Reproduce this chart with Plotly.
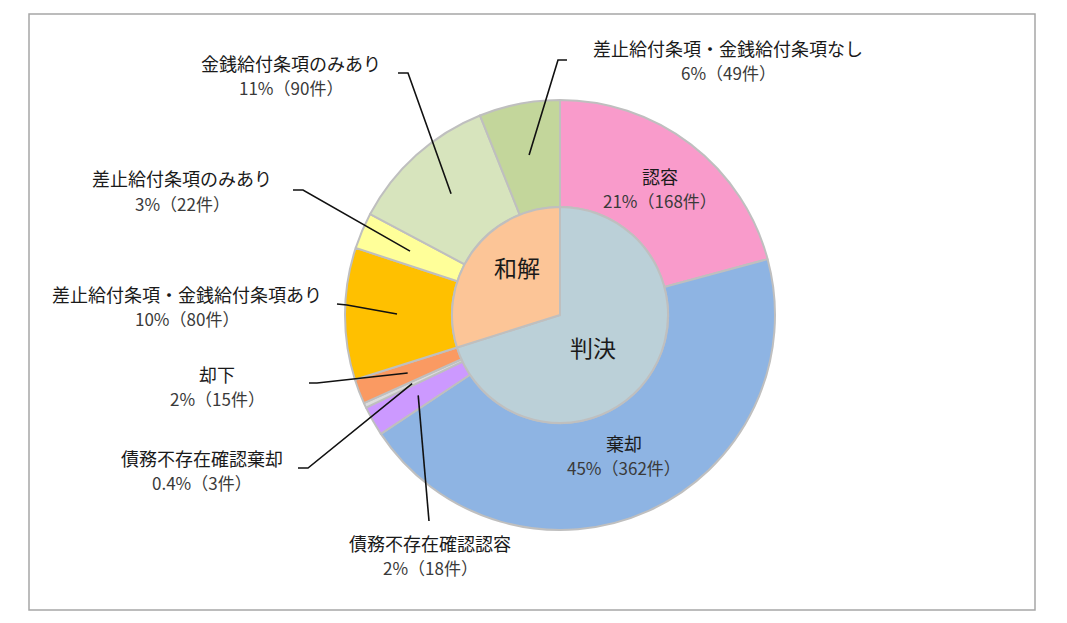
import math
import plotly.graph_objects as go

# ---- data ----
inner_labels = ["判決", "和解"]
outer_labels = ["認容", "棄却", "債務不存在確認認容", "債務不存在確認棄却", "却下",
                "差止給付条項・金銭給付条項あり", "差止給付条項のみあり",
                "金銭給付条項のみあり", "差止給付条項・金銭給付条項なし"]
outer_parent = ["判決", "判決", "判決", "判決", "判決", "和解", "和解", "和解", "和解"]
outer_counts = [168, 362, 18, 3, 15, 80, 22, 90, 49]
outer_pct_text = ["21%", "45%", "2%", "0.4%", "2%", "10%", "3%", "11%", "6%"]

inner_counts = [sum(c for c, p in zip(outer_counts, outer_parent) if p == lab) for lab in inner_labels]

# ---- styles / layout ----
W, H = 1067, 623           # window size
OFF = 8                    # page body margin
FW, FH = W - 2 * OFF, H - 2 * OFF   # figure size
CX, CY = 560, 315          # pie centre (window px)
R_OUT, R_IN = 215, 108     # radii (px)
R_TIP = 163                # leader-line tip radius (px)

outer_colors = ["#F99BCB", "#8EB4E3", "#CC99FF", "#DCDCDC", "#FA9A62",
                "#FFC000", "#FFFF99", "#D7E4BD", "#C3D69B"]
inner_colors = ["#BBD0D8", "#FCC597"]
FONT = "Noto Sans CJK JP"
TXT = "#1A1A1A"
TXT2 = "#3A3A3A"

def px(x):
    return (x - OFF) / FW

def py(y):
    return 1 - (y - OFF) / FH

fig = go.Figure()

fig.add_trace(go.Pie(
    labels=outer_labels, values=outer_counts, sort=False, direction="clockwise",
    rotation=0, hole=R_IN / R_OUT, textinfo="none", hoverinfo="label+value+percent",
    marker=dict(colors=outer_colors, line=dict(color="#BFBFBF", width=2)),
    domain=dict(x=[px(CX - R_OUT), px(CX + R_OUT)], y=[py(CY + R_OUT), py(CY - R_OUT)]),
    showlegend=False,
))
fig.add_trace(go.Pie(
    labels=inner_labels, values=inner_counts, sort=False, direction="clockwise",
    rotation=0, textinfo="none", hoverinfo="label+value+percent",
    marker=dict(colors=inner_colors, line=dict(color="#BFBFBF", width=2)),
    domain=dict(x=[px(CX - R_IN), px(CX + R_IN)], y=[py(CY + R_IN), py(CY - R_IN)]),
    showlegend=False,
))

# label placement (window px): text block centre, leader start points
label_pos = {
    "認容": dict(xy=(660, 188)),
    "棄却": dict(xy=(624, 455)),
    "金銭給付条項のみあり": dict(xy=(291, 75), line=[(398, 73), (408, 73)]),
    "差止給付条項のみあり": dict(xy=(182, 191), line=[(293, 190), (303, 190)]),
    "差止給付条項・金銭給付条項あり": dict(xy=(187, 306), line=[(337, 304), (347, 305)]),
    "差止給付条項・金銭給付条項なし": dict(xy=(728, 60), line=[(567, 60), (558, 60)]),
    "却下": dict(xy=(217, 386), line=[(309, 383), (317, 383)]),
    "債務不存在確認棄却": dict(xy=(202, 470), line=[(298, 468), (308, 468)]),
    "債務不存在確認認容": dict(xy=(430, 555), line=[(429, 521)]),
}
HALF_GAP = 12.5

total = sum(outer_counts)
cum = 0
shapes = []
annotations = []
for lab, cnt, pct in zip(outer_labels, outer_counts, outer_pct_text):
    mid = (cum + cnt / 2) / total * 2 * math.pi
    cum += cnt
    spec = label_pos[lab]
    tx, ty = spec["xy"]
    annotations.append(dict(
        x=px(tx), y=py(ty - HALF_GAP), xref="paper", yref="paper", showarrow=False,
        xanchor="center", yanchor="middle", text=lab,
        font=dict(family=FONT, size=18, color=TXT),
    ))
    annotations.append(dict(
        x=px(tx), y=py(ty + HALF_GAP), xref="paper", yref="paper", showarrow=False,
        xanchor="center", yanchor="middle", text=f"{pct}（{cnt}件）",
        font=dict(family=FONT, size=17, color=TXT2),
    ))
    if "line" in spec:
        tip = (CX + R_TIP * math.sin(mid), CY - R_TIP * math.cos(mid))
        pts = spec["line"] + [tip]
        path = "M " + " L ".join(f"{px(x):.5f},{py(y):.5f}" for x, y in pts)
        shapes.append(dict(type="path", path=path, xref="paper", yref="paper",
                           line=dict(color="#111111", width=1.6)))

inner_pos = {"判決": (593, 347), "和解": (517, 267)}
for lab in inner_labels:
    x, y = inner_pos[lab]
    annotations.append(dict(
        x=px(x), y=py(y), xref="paper", yref="paper", showarrow=False,
        xanchor="center", yanchor="middle", text=lab,
        font=dict(family=FONT, size=23, color=TXT),
    ))

# chart border
shapes.append(dict(type="rect", xref="paper", yref="paper",
                   x0=px(29), x1=px(1035), y0=py(610), y1=py(14),
                   line=dict(color="#A6A6A6", width=1.5), layer="below"))

fig.update_layout(
    width=FW, height=FH, margin=dict(l=0, r=0, t=0, b=0),
    paper_bgcolor="white", plot_bgcolor="white",
    shapes=shapes, annotations=annotations,
    font=dict(family=FONT),
)

fig.write_html("out.html")
